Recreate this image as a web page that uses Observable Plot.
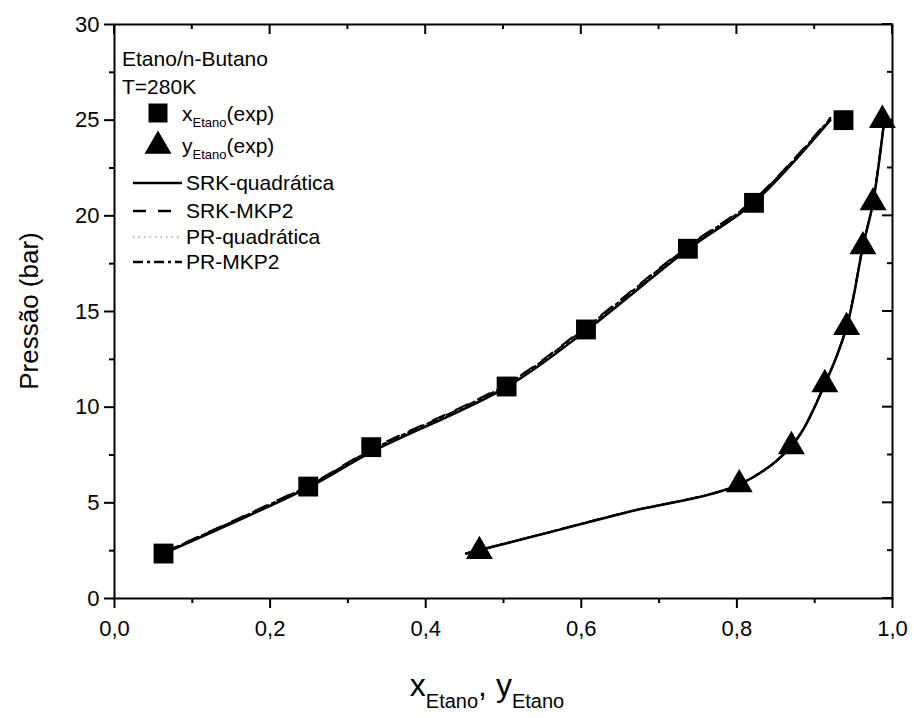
<!DOCTYPE html>
<html>
<head>
<meta charset="utf-8">
<script src="https://cdn.jsdelivr.net/npm/d3@7"></script>
<script src="https://cdn.jsdelivr.net/npm/@observablehq/plot@0.6"></script>
<style>
  html, body { margin: 0; padding: 0; background: #fff; }
  #chart svg { font-family: "Liberation Sans", Arial, sans-serif; display: block; }
</style>
</head>
<body>
<div id="chart"></div>
<script>
// ---- Experimental data (Etano/n-Butano, T = 280 K) ----
const expLiqX = [0.063, 0.249, 0.330, 0.504, 0.606, 0.737, 0.822, 0.937];
const expLiqP = [2.35, 5.85, 7.91, 11.08, 14.06, 18.28, 20.68, 25.00];
const expVapX = [0.469, 0.803, 0.870, 0.913, 0.941, 0.962, 0.975, 0.987];
const expVapP = [2.47, 5.96, 7.95, 11.19, 14.18, 18.40, 20.70, 25.00];

// ---- Model curves ----
const modelLiqX = [0.063, 0.249, 0.330, 0.504, 0.606, 0.737, 0.822, 0.920];
const srkQuadLiqP = [2.35, 5.80, 7.65, 11.05, 14.00, 18.25, 20.70, 25.00];
const srkMkp2LiqP = [2.42, 5.92, 7.80, 11.22, 14.20, 18.42, 20.85, 25.12];
const prQuadLiqP  = [2.38, 5.86, 7.72, 11.14, 14.10, 18.34, 20.78, 25.06];
const prMkp2LiqP  = [2.40, 5.89, 7.76, 11.18, 14.15, 18.38, 20.81, 25.09];

const modelVapX = [0.452, 0.560, 0.659, 0.803, 0.870, 0.913, 0.941, 0.962, 0.975, 0.990];
const srkQuadVapP = [2.35, 3.47, 4.51, 5.96, 7.95, 11.19, 14.18, 18.40, 20.70, 25.20];
const srkMkp2VapP = [2.35, 3.48, 4.52, 5.98, 7.98, 11.22, 14.22, 18.44, 20.74, 25.22];
const prQuadVapP  = [2.35, 3.47, 4.52, 5.97, 7.96, 11.20, 14.20, 18.42, 20.72, 25.21];
const prMkp2VapP  = [2.35, 3.48, 4.52, 5.97, 7.97, 11.21, 14.21, 18.43, 20.73, 25.21];

// ---- Tick values ----
const xMajorTicks = [0, 0.2, 0.4, 0.6, 0.8, 1.0];
const xMinorTicks = [0.1, 0.3, 0.5, 0.7, 0.9];
const yMajorTicks = [0, 5, 10, 15, 20, 25, 30];
const yMinorTicks = [2.5, 7.5, 12.5, 17.5, 22.5, 27.5];

// ---- Legend labels ----
const legendTitle = ["Etano/n-Butano", "T=280K"];
const modelNames = ["SRK-quadrática", "SRK-MKP2", "PR-quadrática", "PR-MKP2"];

const modelDash = {
  "SRK-quadrática": null,
  "SRK-MKP2": "13,12",
  "PR-quadrática": "1.5,4",
  "PR-MKP2": "10,4,3,4"
};
const modelStroke = {
  "SRK-quadrática": "#000",
  "SRK-MKP2": "#000",
  "PR-quadrática": "#777",
  "PR-MKP2": "#000"
};
const modelWidth = {
  "SRK-quadrática": 2.5,
  "SRK-MKP2": 2,
  "PR-quadrática": 1,
  "PR-MKP2": 2
};

const zip = (xs, ys) => xs.map((x, i) => ({x, p: ys[i]}));
const liqPts = zip(expLiqX, expLiqP);
const vapPts = zip(expVapX, expVapP);

const modelSeries = [
  ["SRK-quadrática", srkQuadLiqP, srkQuadVapP],
  ["SRK-MKP2", srkMkp2LiqP, srkMkp2VapP],
  ["PR-quadrática", prQuadLiqP, prQuadVapP],
  ["PR-MKP2", prMkp2LiqP, prMkp2VapP]
];

const comma = d => d3.format(".1f")(d).replace(".", ",");
const FONT = "'Liberation Sans', Arial, sans-serif";
const blank = () => "";

const lineMarks = [];
for (const name of ["PR-quadrática", "PR-MKP2", "SRK-MKP2", "SRK-quadrática"]) {
  const s = modelSeries.find(m => m[0] === name);
  for (const [xs, ps] of [[modelLiqX, s[1]], [modelVapX, s[2]]]) {
    lineMarks.push(Plot.line(zip(xs, ps), {
      x: "x", y: "p", curve: "catmull-rom",
      stroke: modelStroke[name], strokeWidth: modelWidth[name],
      strokeDasharray: modelDash[name] || undefined
    }));
  }
}

const plot = Plot.plot({
  width: 914,
  height: 718,
  marginLeft: 114,
  marginRight: 22,
  marginTop: 24,
  marginBottom: 120,
  style: { background: "#fff", color: "#000", fontFamily: FONT },
  x: { domain: [0, 1] },
  y: { domain: [0, 30] },
  marks: [
    ...lineMarks,
    Plot.dot(liqPts, { x: "x", y: "p", symbol: "square", r: 11.2, fill: "#000", stroke: "none" }),
    Plot.dot(vapPts, { x: "x", y: "p", symbol: "triangle", r: 10, fill: "#000", stroke: "none" }),
    // Plot axes: outward ticks on bottom/left with labels
    Plot.axisX(xMajorTicks, { anchor: "bottom", tickSize: 10, tickPadding: 12, strokeWidth: 2, tickFormat: comma, fontSize: 22, label: null }),
    Plot.axisX(xMinorTicks, { anchor: "bottom", tickSize: 5, strokeWidth: 2, tickFormat: blank, label: null }),
    Plot.axisY(yMajorTicks, { anchor: "left", tickSize: 10, tickPadding: 5, strokeWidth: 2, tickFormat: d => String(d), fontSize: 22, label: null }),
    Plot.axisY(yMinorTicks, { anchor: "left", tickSize: 5, strokeWidth: 2, tickFormat: blank, label: null }),
    Plot.frame({ stroke: "#000", strokeWidth: 2 })
  ]
});

document.getElementById("chart").appendChild(plot);

const svg = d3.select(plot);

// ---- Inward ticks on top/right, placed with Plot's own scales ----
const sx = plot.scale("x"), sy = plot.scale("y");
const xr = sx.range, yr = sy.range;
const xRight = Math.max(xr[0], xr[1]);
const yTop = Math.min(yr[0], yr[1]);
const tg = svg.append("g").attr("stroke", "#000").attr("stroke-width", 2);
const inX = (v, len) => tg.append("line")
  .attr("x1", sx.apply(v)).attr("x2", sx.apply(v))
  .attr("y1", yTop).attr("y2", yTop + len);
const inY = (v, len) => tg.append("line")
  .attr("y1", sy.apply(v)).attr("y2", sy.apply(v))
  .attr("x1", xRight).attr("x2", xRight - len);
xMajorTicks.forEach(v => inX(v, 10));
xMinorTicks.forEach(v => inX(v, 5));
yMajorTicks.forEach(v => inY(v, 10));
yMinorTicks.forEach(v => inY(v, 5));

// Axis titles
const xl = svg.append("text")
  .attr("x", 487).attr("y", 696)
  .attr("text-anchor", "middle")
  .attr("font-family", FONT).attr("font-size", 32).attr("fill", "#000");
xl.append("tspan").text("x");
xl.append("tspan").attr("font-size", 20).attr("dy", 12).text("Etano");
xl.append("tspan").attr("dy", -12).text(", y");
xl.append("tspan").attr("font-size", 20).attr("dy", 12).text("Etano");

svg.append("text")
  .attr("transform", "translate(38,311) rotate(-90)")
  .attr("text-anchor", "middle")
  .attr("font-family", FONT).attr("font-size", 26).attr("fill", "#000")
  .text("Pressão (bar)");

// Legend
const lg = svg.append("g")
  .attr("font-family", FONT).attr("font-size", 21).attr("fill", "#000")
  .attr("text-anchor", "start");
lg.append("text").attr("x", 122).attr("y", 66).text(legendTitle[0]);
lg.append("text").attr("x", 122).attr("y", 94).text(legendTitle[1]);

lg.append("path")
  .attr("transform", "translate(158,113)")
  .attr("d", d3.symbol(d3.symbolSquare, 19 * 19)())
  .attr("fill", "#000");
const t1 = lg.append("text").attr("x", 182).attr("y", 121);
t1.append("tspan").text("x");
t1.append("tspan").attr("font-size", 13).attr("dy", 6).text("Etano");
t1.append("tspan").attr("dy", -6).text("(exp)");

lg.append("path")
  .attr("transform", "translate(158,146)")
  .attr("d", d3.symbol(d3.symbolTriangle, 315)())
  .attr("fill", "#000");
const t2 = lg.append("text").attr("x", 182).attr("y", 153);
t2.append("tspan").text("y");
t2.append("tspan").attr("font-size", 13).attr("dy", 6).text("Etano");
t2.append("tspan").attr("dy", -6).text("(exp)");

const rowY = [183, 211, 237, 262];
modelNames.forEach((name, i) => {
  lg.append("line")
    .attr("x1", 133).attr("x2", 182)
    .attr("y1", rowY[i]).attr("y2", rowY[i])
    .attr("stroke", modelStroke[name])
    .attr("stroke-width", name === "PR-quadrática" ? 1 : 2.5)
    .attr("stroke-dasharray", modelDash[name] || null);
  lg.append("text").attr("x", 186).attr("y", rowY[i] + 7).text(name);
});
</script>
</body>
</html>
